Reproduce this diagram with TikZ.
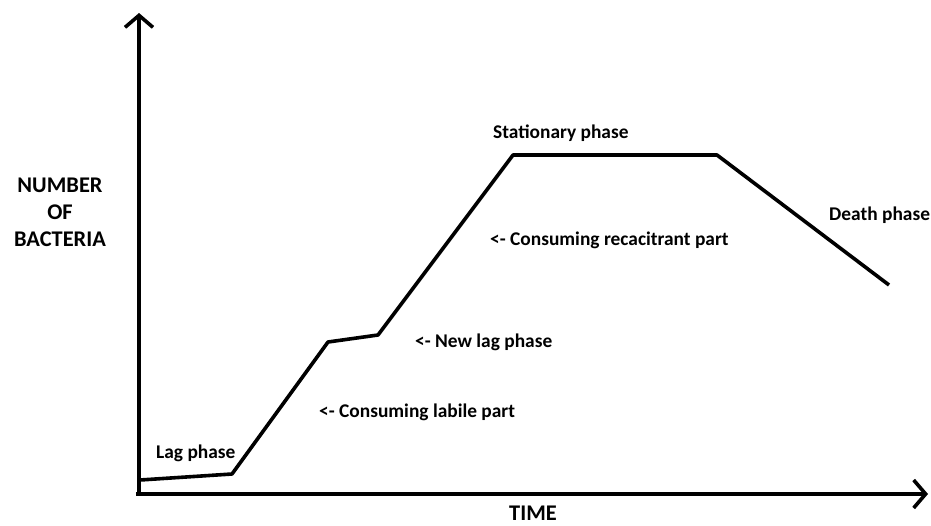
\documentclass[tikz,border=0pt]{standalone}
\usepackage{fontspec}
\setmainfont{Carlito}
\usetikzlibrary{arrows.meta}
\definecolor{ink}{HTML}{000000}

\begin{document}
\begin{tikzpicture}[
  x=1pt, y=-1pt,
  font=\bfseries\fontsize{19.4}{23}\selectfont,
  axis/.style ={draw=ink, line width=3.6pt,
                -{Straight Barb[length=12pt, width=28pt, line width=3.6pt]}},
  curve/.style={draw=ink, line width=3.6pt, line join=round},
  lbl/.style  ={text=ink, inner sep=0pt, anchor=base west},
  axlbl/.style={text=ink, inner sep=0pt, align=center,
                font=\bfseries\fontsize{22.4}{27}\selectfont},
]
  \useasboundingbox (0,0) rectangle (931,525);

  % --- axes ---
  \coordinate (o)      at (139,494);
  \coordinate (ytop)   at (139,13);
  \coordinate (xstart) at (136,494);
  \coordinate (xend)   at (928,494);
  \draw[axis] (o) -- (ytop);
  \draw[axis] (xstart) -- (xend);

  % --- growth curve ---
  \coordinate (c0) at (140,480);
  \coordinate (c1) at (232,474);
  \coordinate (c2) at (328,342);
  \coordinate (c3) at (378,335);
  \coordinate (c4) at (513,155);
  \coordinate (c5) at (717,155);
  \coordinate (c6) at (889,285);
  \draw[curve] (c0) -- (c1) -- (c2) -- (c3) -- (c4) -- (c5) -- (c6);

  % --- labels ---
  \node[axlbl] (ylab) at (60,212) {NUMBER\\OF\\BACTERIA};
  \node[axlbl, anchor=base] (xlab) at (533,520) {TIME};
  \node[lbl] (lag)    at (156,458) {Lag phase};
  \node[lbl] (labile) at (319,417) {<- Consuming labile part};
  \node[lbl] (newlag) at (415,347) {<- New lag phase};
  \node[lbl] (recalc) at (490,245) {<- Consuming recacitrant part};
  \node[lbl] (stat)   at (493,138) {Stationary phase};
  \node[lbl] (death)  at (829,220) {Death phase};
\end{tikzpicture}
\end{document}
